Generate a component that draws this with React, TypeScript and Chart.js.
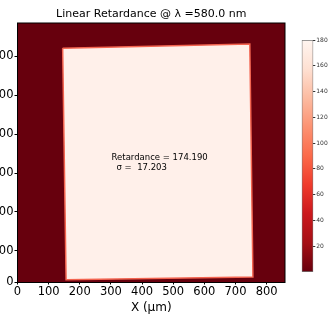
import React, { useEffect, useRef } from 'react';
import { Chart, registerables } from 'chart.js';
Chart.register(...registerables);

// ---- data ----
const xTicks = [0, 100, 200, 300, 400, 500, 600, 700, 800];
const yTicks = [100, 200, 300, 400, 500, 600];
const sampleX = [145, 746, 756, 156, 145];
const sampleY = [620, 631, 33, 26, 620];
const cbTicks = [20, 40, 60, 80, 100, 120, 140, 160, 180];
const xRange = [0, 859];
const yRange = [19, 685];
const cbRange = [0, 180];
const retardance = 174.19;
const sigma = 17.203;
const wavelength = 580.0;

const FONT = 'DejaVu Sans';
const redsR = ['#67000d', '#a50f15', '#cb181d', '#ef3b2c', '#fb6a4a', '#fc9272', '#fcbba1', '#fee0d2', '#fff5f0'];

export default function App() {
  const mainRef = useRef<HTMLCanvasElement>(null);
  const cbRef = useRef<HTMLCanvasElement>(null);

  useEffect(() => {
    const bgPlugin = {
      id: 'bg',
      beforeDatasetsDraw(chart: any) {
        const { ctx, chartArea: a } = chart;
        ctx.save();
        ctx.fillStyle = '#67000d';
        ctx.fillRect(a.left, a.top, a.right - a.left, a.bottom - a.top);
        ctx.restore();
      },
      afterDatasetsDraw(chart: any) {
        const { ctx, chartArea: a, scales } = chart;
        ctx.save();
        ctx.strokeStyle = '#000';
        ctx.lineWidth = 1;
        ctx.strokeRect(a.left, a.top, a.right - a.left, a.bottom - a.top);
        ctx.fillStyle = '#000';
        ctx.font = `8.5px "${FONT}"`;
        ctx.textBaseline = 'middle';
        ctx.textAlign = 'left';
        ctx.fillText(`Retardance = ${retardance.toFixed(3)}`, scales.x.getPixelForValue(302), scales.y.getPixelForValue(340));
        ctx.fillText(`σ =  ${sigma.toFixed(3)}`, scales.x.getPixelForValue(318), scales.y.getPixelForValue(313));
        ctx.restore();
      },
    };

    const main = new Chart(mainRef.current!, {
      type: 'scatter',
      data: {
        datasets: [
          {
            data: sampleX.map((x, i) => ({ x, y: sampleY[i] })),
            showLine: true,
            pointRadius: 0,
            borderColor: '#f36450',
            borderWidth: 1.5,
            backgroundColor: '#fff0ea',
            fill: 'shape',
            tension: 0,
          } as any,
        ],
      },
      options: {
        animation: false,
        responsive: false,
        events: [],
        layout: { padding: { left: 0, right: 46, top: 0, bottom: 0 } },
        plugins: {
          legend: { display: false },
          tooltip: { enabled: false },
          title: {
            display: true,
            text: `Linear Retardance @ λ =${wavelength.toFixed(1)} nm`,
            fullSize: false,
            color: '#000',
            font: { family: FONT, size: 11, weight: 'normal', lineHeight: 1.2 },
            padding: { top: 8, bottom: 1.8 },
          },
        },
        scales: {
          x: {
            type: 'linear',
            min: xRange[0],
            max: xRange[1],
            afterBuildTicks: (s: any) => {
              s.ticks = xTicks.map((v) => ({ value: v }));
            },
            afterFit: (s: any) => {
              s.height = 41.5;
            },
            ticks: { color: '#000', font: { family: FONT, size: 11.5 }, padding: 1, maxRotation: 0, autoSkip: false },
            grid: { drawOnChartArea: false, drawTicks: true, tickLength: 2, color: '#000' },
            border: { display: false },
            title: {
              display: true,
              text: 'X (μm)',
              color: '#000',
              font: { family: FONT, size: 12, lineHeight: 1.2 },
              padding: { top: 0, bottom: 9 },
            },
          },
          y: {
            type: 'linear',
            min: yRange[0],
            max: yRange[1],
            afterBuildTicks: (s: any) => {
              s.ticks = [{ value: yRange[0] }, ...yTicks.map((v) => ({ value: v }))];
            },
            afterFit: (s: any) => {
              s.width = 37.5;
            },
            ticks: {
              color: '#000',
              font: { family: FONT, size: 11.5 },
              padding: 1,
              autoSkip: false,
              callback: (v: any) => (v === yRange[0] ? '0' : String(v)),
            },
            grid: { drawOnChartArea: false, drawTicks: true, tickLength: 3, color: '#000' },
            border: { display: false },
          },
        },
      },
      plugins: [bgPlugin],
    });

    const cb = new Chart(cbRef.current!, {
      type: 'bar',
      data: {
        labels: [''],
        datasets: [
          {
            data: [[cbRange[0], cbRange[1]]] as any,
            backgroundColor: (c: any) => {
              const a = c.chart.chartArea;
              if (!a) return '#67000d';
              const g = c.chart.ctx.createLinearGradient(0, a.bottom, 0, a.top);
              redsR.forEach((col, i) => g.addColorStop(i / (redsR.length - 1), col));
              return g;
            },
            borderColor: '#777',
            borderWidth: 1,
            borderSkipped: false,
            barPercentage: 1,
            categoryPercentage: 1,
          } as any,
        ],
      },
      options: {
        animation: false,
        responsive: false,
        events: [],
        layout: { padding: { left: 11.7, right: 0, top: 10, bottom: 8 } },
        plugins: { legend: { display: false }, tooltip: { enabled: false }, title: { display: false } },
        scales: {
          x: { display: false },
          y: {
            position: 'right',
            min: cbRange[0],
            max: cbRange[1],
            afterBuildTicks: (s: any) => {
              s.ticks = cbTicks.map((v) => ({ value: v }));
            },
            afterFit: (s: any) => {
              s.width = 17.7;
            },
            ticks: { color: '#333', font: { family: FONT, size: 6 }, padding: 1, autoSkip: false },
            grid: { drawOnChartArea: false, drawTicks: true, tickLength: 2, color: '#333' },
            border: { display: false },
          },
        },
      },
    });

    return () => {
      main.destroy();
      cb.destroy();
    };
  }, []);

  return (
    <div style={{ position: 'fixed', left: 0, top: 0, width: 331, height: 324, overflow: 'hidden', background: '#fff' }}>
      <canvas ref={mainRef} width={351} height={324} style={{ position: 'absolute', left: -20, top: 0 }} />
      <canvas ref={cbRef} width={41} height={250} style={{ position: 'absolute', left: 290, top: 30 }} />
    </div>
  );
}
